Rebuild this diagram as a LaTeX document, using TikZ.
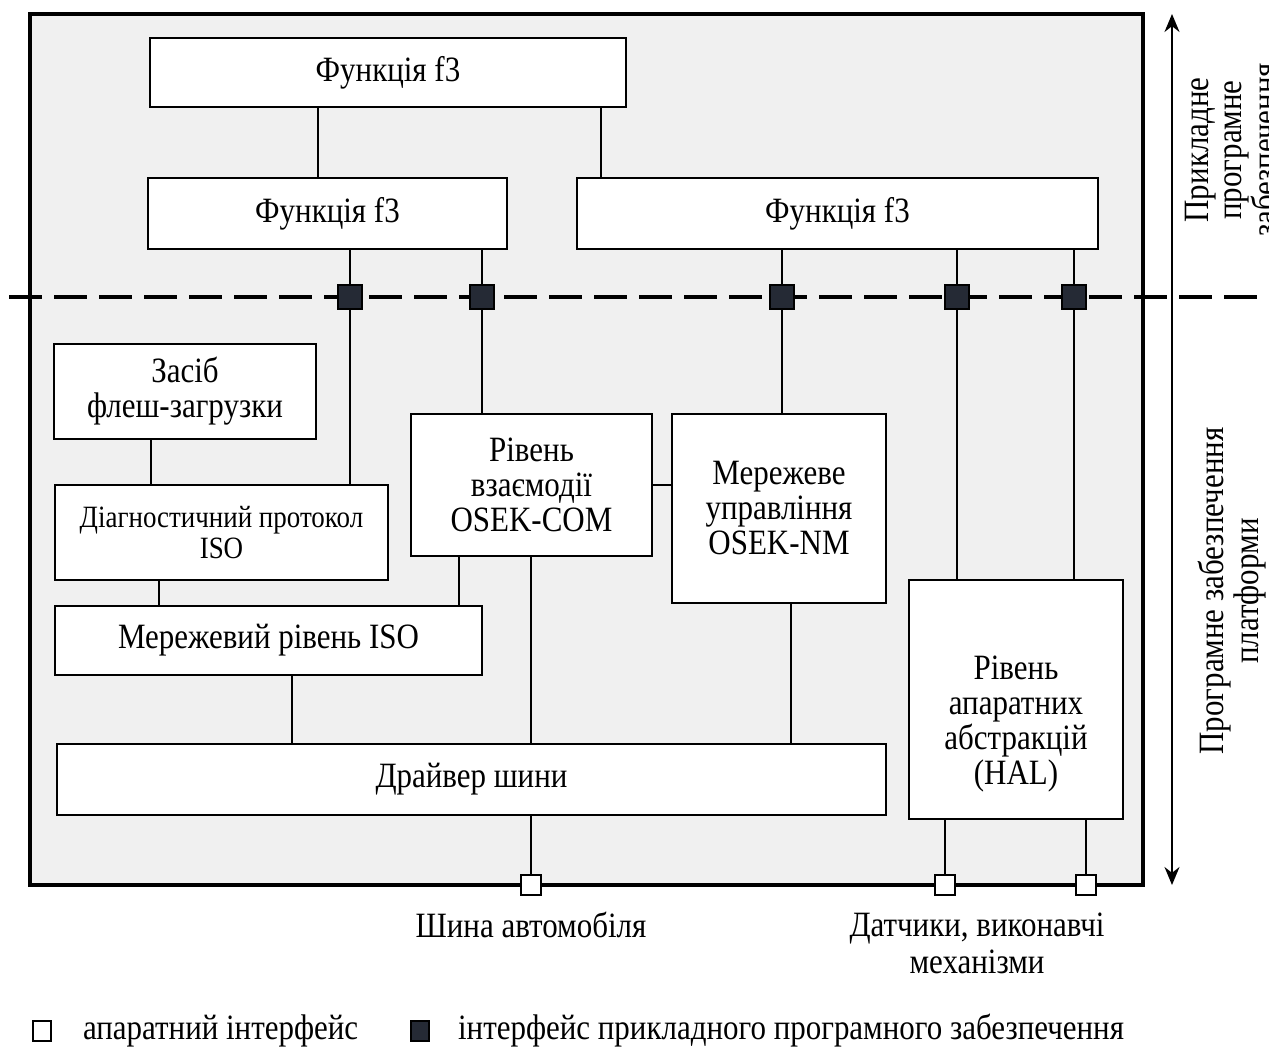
\documentclass[tikz,border=0pt]{standalone}
\usepackage{fontspec}
\setmainfont{Liberation Serif}[FakeStretch=0.87]
\usetikzlibrary{arrows.meta}

\definecolor{fon}{HTML}{F0F0F0}
\definecolor{apicol}{HTML}{252A35}

\begin{document}
\begin{tikzpicture}[x=0.5pt,y=-0.5pt,>={Stealth[length=9pt,width=7.5pt]},
  font=\fontsize{17.8}{17.5}\selectfont,
  blok/.style={draw,fill=white,line width=1pt,align=center,inner sep=2pt},
  lnk/.style={line width=1pt},
  apisq/.style={draw,fill=apicol,line width=1pt,minimum size=12pt,inner sep=0pt},
  hwsq/.style={draw,fill=white,line width=1pt,minimum size=10pt,inner sep=0pt}]
  \useasboundingbox (0,0) rectangle (1269,1058);

  % frame and border between the two layers
  \draw[line width=1.8pt,fill=fon] (30,14) rectangle (1143,885);
  \draw[line width=2pt,dash pattern=on 16.5pt off 6pt] (9,297) -- (1269,297);

  % application software
  \node[blok,minimum width=238pt,minimum height=34.5pt] (f3top) at (388,72.5) {Функція f3};
  \node[blok,minimum width=179.5pt,minimum height=35.5pt] (f3left) at (327.5,213.5) {Функція f3};
  \node[blok,minimum width=260.5pt,minimum height=35.5pt] (f3right) at (837.5,213.5) {Функція f3};

  % platform software
  \node[blok,minimum width=131pt,minimum height=47.5pt] (flash) at (185,391.5) {Засіб\\флеш-загрузки};
  \node[blok,minimum width=166.5pt,minimum height=47.5pt,font=\fontsize{15.5}{15.5}\selectfont]
    (diag) at (221.5,532.5) {Діагностичний протокол\\ISO};
  \node[blok,minimum width=213.5pt,minimum height=34.5pt] (netiso) at (268.5,640.5) {Мережевий рівень ISO};
  \node[blok,minimum width=120.5pt,minimum height=71pt] (osekcom) at (531.5,485) {Рівень\\взаємодії\\OSEK-COM};
  \node[blok,minimum width=107pt,minimum height=94.5pt] (oseknm) at (779,508.5) {Мережеве\\управління\\OSEK-NM};
  \node[blok,minimum width=414.5pt,minimum height=35.5pt] (bus) at (471.5,779.5) {Драйвер шини};
  \node[blok,minimum width=107pt,minimum height=119.5pt] (hal) at (1016,699.5) {};
  \node[align=center] (haltxt) at ([yshift=-12.5pt]hal.center) {Рівень\\апаратних\\абстракцій\\(HAL)};

  % interfaces
  \foreach \n/\x in {1/350,2/482,3/782,4/957,5/1074}
    \node[apisq] (api\n) at (\x,297) {};
  \foreach \n/\x in {1/531,2/945,3/1086}
    \node[hwsq] (hw\n) at (\x,885) {};

  % links
  \draw[lnk] (f3top.south -| 318,0) -- (f3left.north -| 318,0);
  \draw[lnk] (f3top.south -| 601,0) -- (f3right.north -| 601,0);
  \draw[lnk] (f3left.south -| api1) -- (api1.north);
  \draw[lnk] (api1.south) -- (diag.north -| api1);
  \draw[lnk] (f3left.south -| api2) -- (api2.north);
  \draw[lnk] (api2.south) -- (osekcom.north -| api2);
  \draw[lnk] (f3right.south -| api3) -- (api3.north);
  \draw[lnk] (api3.south) -- (oseknm.north -| api3);
  \draw[lnk] (f3right.south -| api4) -- (api4.north);
  \draw[lnk] (api4.south) -- (hal.north -| api4);
  \draw[lnk] (f3right.south -| api5) -- (api5.north);
  \draw[lnk] (api5.south) -- (hal.north -| api5);
  \draw[lnk] (flash.south -| 151,0) -- (diag.north -| 151,0);
  \draw[lnk] (diag.south -| 159,0) -- (netiso.north -| 159,0);
  \draw[lnk] (osekcom.south -| 459,0) -- (netiso.north -| 459,0);
  \draw[lnk] (osekcom.east) -- (oseknm.west |- osekcom.east);
  \draw[lnk] (netiso.south -| 292,0) -- (bus.north -| 292,0);
  \draw[lnk] (osekcom.south -| hw1) -- (bus.north -| hw1);
  \draw[lnk] (oseknm.south -| 791,0) -- (bus.north -| 791,0);
  \draw[lnk] (bus.south -| hw1) -- (hw1.north);
  \draw[lnk] (hal.south -| hw2) -- (hw2.north);
  \draw[lnk] (hal.south -| hw3) -- (hw3.north);

  % layer arrow and captions
  \coordinate (atop) at (1172,14);
  \coordinate (abot) at (1172,885);
  \draw[<->,line width=1pt] (atop) -- (abot);
  \node[rotate=90,align=center,font=\fontsize{17.8}{16.5}\selectfont] (applab) at (1231,150) {Прикладне\\програмне\\забезпечення};
  \node[rotate=90,align=center] (platlab) at (1232,591) {Програмне забезпечення\\платформи};
  \node (buslab) at (531,925) {Шина автомобіля};
  \node[align=center,font=\fontsize{17.8}{18.5}\selectfont] (senslab) at (977,943) {Датчики, виконавчі\\механізми};

  % legend
  \node[hwsq,minimum width=9pt,minimum height=10pt] (leghw) at (42,1031) {};
  \node[anchor=west] (leghwtxt) at (76,1031) {апаратний інтерфейс};
  \node[apisq,minimum width=9pt,minimum height=10pt] (legapi) at (420,1031) {};
  \node[anchor=west] (legapitxt) at (451,1031) {інтерфейс прикладного програмного забезпечення};
\end{tikzpicture}
\end{document}
